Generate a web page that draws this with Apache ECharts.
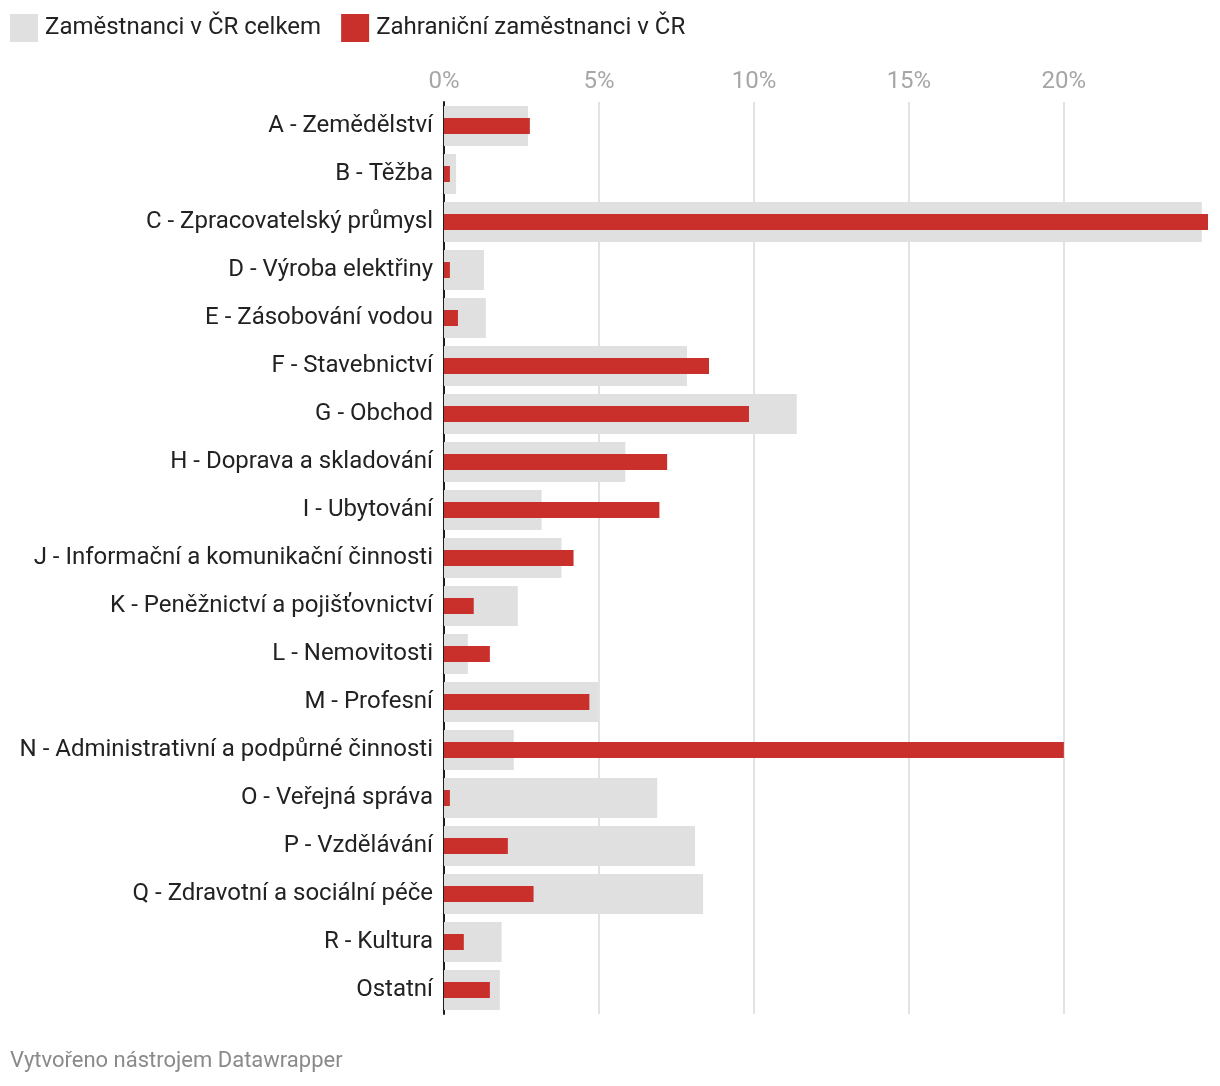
<!DOCTYPE html>
<html>
<head>
<meta charset="utf-8">
<title>Zaměstnanci podle odvětví</title>
<script src="https://cdn.jsdelivr.net/npm/echarts@6/dist/echarts.min.js"></script>
<style>
  html, body { margin: 0; padding: 0; background: #fff; }
  #chart { width: 1220px; height: 1086px; }
</style>
</head>
<body>
<div id="chart"></div>
<script>
// kategorie odvětví (CZ-NACE)
var categories = [
  'A - Zemědělství', 'B - Těžba', 'C - Zpracovatelský průmysl', 'D - Výroba elektřiny',
  'E - Zásobování vodou', 'F - Stavebnictví', 'G - Obchod', 'H - Doprava a skladování',
  'I - Ubytování', 'J - Informační a komunikační činnosti', 'K - Peněžnictví a pojišťovnictví',
  'L - Nemovitosti', 'M - Profesní', 'N - Administrativní a podpůrné činnosti',
  'O - Veřejná správa', 'P - Vzdělávání', 'Q - Zdravotní a sociální péče', 'R - Kultura', 'Ostatní'
];
// podíl v %
var celkem = [2.71, 0.39, 24.45, 1.29, 1.35, 7.84, 11.38, 5.85, 3.15, 3.79, 2.38, 0.77, 4.97, 2.25, 6.88, 8.1, 8.36, 1.86, 1.8];
var zahranicni = [2.77, 0.19, 24.65, 0.19, 0.45, 8.55, 9.84, 7.2, 6.95, 4.18, 0.96, 1.48, 4.69, 20.0, 0.19, 2.06, 2.89, 0.64, 1.48];
var seriesNames = ['Zaměstnanci v ČR celkem', 'Zahraniční zaměstnanci v ČR'];
var tickStep = 5;

var font = 'Roboto, "Noto Sans", sans-serif';
var chart = echarts.init(document.getElementById('chart'));

var option = {
  animation: false,
  textStyle: { fontFamily: font },
  title: {
    text: 'Vytvořeno nástrojem Datawrapper',
    left: 10,
    top: 1050,
    padding: 0,
    textStyle: { fontFamily: font, fontSize: 22, fontWeight: 'normal', color: '#8a8a8a' }
  },
  legend: {
    data: seriesNames,
    left: 10,
    top: 14,
    padding: 0,
    icon: 'rect',
    itemWidth: 28,
    itemHeight: 28,
    itemGap: 20,
    selectedMode: false,
    textStyle: { fontFamily: font, fontSize: 24, color: '#222', padding: [0, 0, 0, 2] }
  },
  grid: { left: 444, right: 12, top: 102, height: 912, containLabel: false },
  xAxis: {
    type: 'value',
    position: 'top',
    min: 0,
    max: 24.65,
    interval: tickStep,
    axisLine: { show: false },
    axisTick: { show: false },
    axisLabel: {
      formatter: '{value}%',
      showMaxLabel: false,
      fontFamily: font,
      fontSize: 24,
      color: '#a6a6a6',
      margin: 8
    },
    splitLine: {
      show: true,
      showMaxLine: false,
      lineStyle: { color: '#e3e3e3', width: 2 }
    }
  },
  yAxis: [
    {
      type: 'category',
      inverse: true,
      data: categories,
      axisLine: { show: true, lineStyle: { color: '#1e1e1e', width: 2 } },
      axisTick: { show: false },
      axisLabel: { fontFamily: font, fontSize: 24, color: '#222', margin: 11 }
    },
    {
      // druhá (skrytá) osa, aby byl červený pruh vystředěn v šedém
      type: 'category',
      inverse: true,
      position: 'left',
      data: categories,
      show: false
    }
  ],
  series: [
    {
      name: seriesNames[0],
      type: 'bar',
      yAxisIndex: 0,
      data: celkem,
      barWidth: 40,
      itemStyle: { color: '#dfe0df' },
      silent: true,
      z: 1
    },
    {
      name: seriesNames[1],
      type: 'bar',
      yAxisIndex: 1,
      data: zahranicni,
      barWidth: 16,
      itemStyle: { color: '#c9302b' },
      silent: true,
      z: 2
    }
  ]
};

chart.setOption(option);
</script>
</body>
</html>
